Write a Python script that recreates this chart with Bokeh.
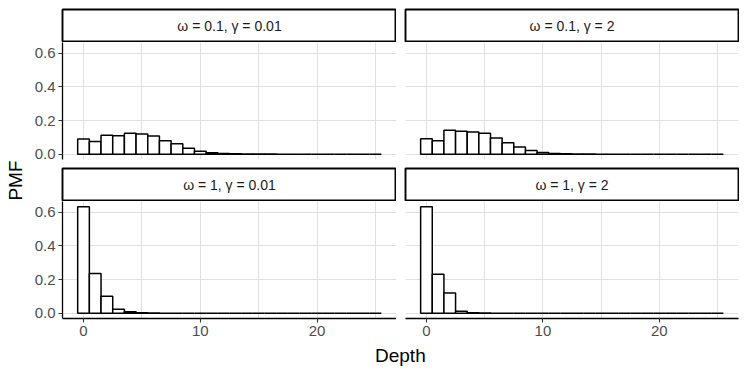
from bokeh.plotting import figure
from bokeh.models import Range1d, FixedTicker, PrintfTickFormatter, ColumnDataSource
from bokeh.layouts import row, column
from bokeh.core.properties import value
from bokeh.embed import file_html
from bokeh.resources import INLINE
import math

# ---- data ----
depth = list(range(26))
pmf_w01_g001 = [0.090, 0.076, 0.112, 0.110, 0.124, 0.120, 0.108, 0.080, 0.062, 0.036,
                0.018, 0.009, 0.004, 0.002, 0.001, 0.0005, 0.0003, 0.0002, 0.0001, 0.0,
                0.0, 0.0, 0.0, 0.0, 0.0, 0.0]
pmf_w01_g2 = [0.092, 0.080, 0.143, 0.136, 0.132, 0.125, 0.097, 0.068, 0.042, 0.022,
              0.010, 0.004, 0.002, 0.001, 0.0005, 0.0002, 0.0001, 0.0, 0.0, 0.0,
              0.0, 0.0, 0.0, 0.0, 0.0, 0.0]
pmf_w1_g001 = [0.633, 0.236, 0.100, 0.024, 0.008, 0.002, 0.0005, 0.0001, 0.0, 0.0,
               0.0, 0.0, 0.0, 0.0, 0.0, 0.0, 0.0, 0.0, 0.0, 0.0,
               0.0, 0.0, 0.0, 0.0, 0.0, 0.0]
pmf_w1_g2 = [0.633, 0.232, 0.120, 0.012, 0.002, 0.0005, 0.0001, 0.0, 0.0, 0.0,
             0.0, 0.0, 0.0, 0.0, 0.0, 0.0, 0.0, 0.0, 0.0, 0.0,
             0.0, 0.0, 0.0, 0.0, 0.0, 0.0]
strip_labels = ["ω = 0.1, γ = 0.01", "ω = 0.1, γ = 2", "ω = 1, γ = 0.01", "ω = 1, γ = 2"]
y_ticks = [0.0, 0.2, 0.4, 0.6]
x_ticks = [0, 10, 20]
x_grid = [0, 5, 10, 15, 20, 25]
x_label = "Depth"
y_label = "PMF"

FONT_NAME = "Liberation Sans"
FONT = value(FONT_NAME)
GRID = "#E0E0E0"

LEFT_W, RIGHT_W = 334, 333
LB_LEFT, LB_RIGHT = 34, 9
YLAB_W = 28


def base_fig(**kw):
    p = figure(output_backend="svg", toolbar_location=None, **kw)
    p.background_fill_color = "white"
    p.border_fill_color = "white"
    return p


def strip(label, left, top_border):
    p = base_fig(frame_width=LEFT_W if left else RIGHT_W, frame_height=32,
                 min_border_left=LB_LEFT if left else LB_RIGHT,
                 min_border_right=0 if left else 1,
                 min_border_top=top_border, min_border_bottom=1,
                 x_range=Range1d(0, 1), y_range=Range1d(0, 1),
                 x_axis_location=None, y_axis_location=None)
    p.grid.visible = False
    p.outline_line_color = "black"
    p.outline_line_width = 1.9
    p.text(x=[0.5], y=[0.5], text=[label], text_align="center", text_baseline="middle",
           text_font=FONT, text_font_size="14px", text_color="#1A1A1A")
    return p


def panel(vals, left, bottom):
    p = base_fig(frame_width=LEFT_W if left else RIGHT_W, frame_height=117,
                 min_border_left=LB_LEFT if left else LB_RIGHT,
                 min_border_right=0 if left else 1,
                 min_border_top=0, min_border_bottom=26 if bottom else 8,
                 x_range=Range1d(-1.8, 26.8), y_range=Range1d(-0.0317, 0.6647),
                 x_axis_location="below" if bottom else None,
                 y_axis_location="left" if left else None)
    p.outline_line_color = None
    p.xgrid.ticker = FixedTicker(ticks=x_grid)
    p.ygrid.ticker = FixedTicker(ticks=y_ticks)
    p.grid.grid_line_color = GRID
    p.grid.grid_line_width = 1.1
    src = ColumnDataSource(dict(
        left=[d - 0.5 for d in depth], right=[d + 0.5 for d in depth],
        top=vals, bottom=[0.0] * len(depth)))
    p.quad(left="left", right="right", top="top", bottom="bottom", source=src,
           fill_color="white", line_color="black", line_width=1.5)
    axes = []
    if left:
        axes.append(p.yaxis[0])
    if bottom:
        axes.append(p.xaxis[0])
    for ax in axes:
        ax.axis_line_color = "black"
        ax.axis_line_width = 1.3
        ax.major_tick_line_color = "#333333"
        ax.major_tick_line_width = 1.1
        ax.major_tick_out = 4
        ax.major_tick_in = 0
        ax.minor_tick_line_color = None
        ax.major_label_standoff = 3
        ax.major_label_text_font = FONT_NAME
        ax.major_label_text_font_size = "15px"
        ax.major_label_text_color = "#4D4D4D"
    if left:
        p.yaxis[0].ticker = FixedTicker(ticks=y_ticks)
        p.yaxis[0].formatter = PrintfTickFormatter(format="%.1f")
    if bottom:
        p.xaxis[0].ticker = FixedTicker(ticks=x_ticks)
    return p


tl = panel(pmf_w01_g001, True, False)
tr = panel(pmf_w01_g2, False, False)
bl = panel(pmf_w1_g001, True, True)
br = panel(pmf_w1_g2, False, True)

col_left = column(strip(strip_labels[0], True, 9), tl, strip(strip_labels[2], True, 1), bl)
col_right = column(strip(strip_labels[1], False, 9), tr, strip(strip_labels[3], False, 1), br)

TOTAL_H = 42 + 125 + 34 + 143 + 22

# y label figure
ylab = base_fig(width=YLAB_W, height=TOTAL_H, min_border=0, x_range=Range1d(0, 1), y_range=Range1d(0, 1),
                x_axis_location=None, y_axis_location=None)
ylab.grid.visible = False
ylab.outline_line_color = None
ylab.text(x=[0.54], y=[0.508], text=[y_label], angle=math.pi / 2, text_align="center",
          text_baseline="middle", text_font=FONT, text_font_size="19px", text_color="black")

# x label figure
xlab = base_fig(width=LB_LEFT + LEFT_W + LB_RIGHT + RIGHT_W + 1, height=22, min_border=0,
                x_range=Range1d(0, 1), y_range=Range1d(0, 1),
                x_axis_location=None, y_axis_location=None)
xlab.grid.visible = False
xlab.outline_line_color = None
xlab.text(x=[0.523], y=[0.5], text=[x_label], text_align="center", text_baseline="middle",
          text_font=FONT, text_font_size="19px", text_color="black")

layout = row(ylab, column(row(col_left, col_right), xlab))

open("out.html", "w").write(file_html(layout, INLINE))
